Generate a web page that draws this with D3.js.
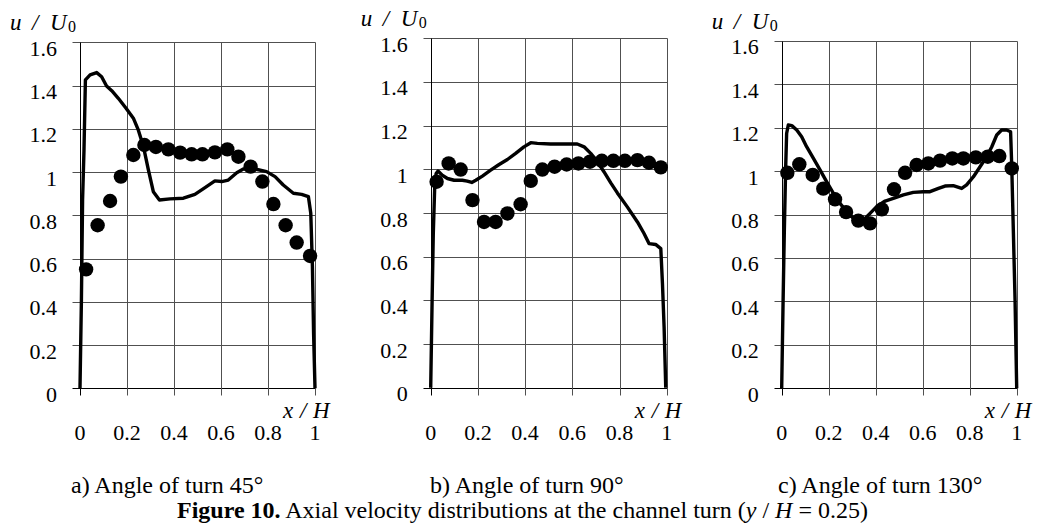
<!DOCTYPE html>
<html>
<head>
<meta charset="utf-8">
<script src="https://cdn.jsdelivr.net/npm/d3@7"></script>
<style>
  html, body { margin: 0; padding: 0; background: #fff; }
  svg { display: block; }
  text { font-family: "Liberation Serif", "Times New Roman", serif; fill: #000; }
</style>
</head>
<body>
<svg id="chart" width="1045" height="529"></svg>
<script>
// ---------------- DATA ----------------
const xTicks = [0, 0.2, 0.4, 0.6, 0.8, 1];
const yTicks = [0, 0.2, 0.4, 0.6, 0.8, 1, 1.2, 1.4, 1.6];
const xTickLabels = ["0", "0.2", "0.4", "0.6", "0.8", "1"];
const yTickLabels = ["0", "0.2", "0.4", "0.6", "0.8", "1", "1.2", "1.4", "1.6"];
const panelCaptions = ["a) Angle of turn 45\u00B0", "b) Angle of turn 90\u00B0", "c) Angle of turn 130\u00B0"];

// Panel a) 45° : experiment (dots)
const expA_x = [0.026, 0.075, 0.128, 0.174, 0.227, 0.274, 0.323, 0.376, 0.426, 0.475, 0.521, 0.574, 0.627, 0.674, 0.726, 0.776, 0.823, 0.875, 0.922, 0.979];
const expA_u = [0.55, 0.754, 0.866, 0.979, 1.079, 1.125, 1.116, 1.105, 1.090, 1.082, 1.082, 1.091, 1.105, 1.071, 1.025, 0.956, 0.852, 0.754, 0.674, 0.612];
// Panel a) 45° : calculation (line)
const calcA_x = [0, 0.006, 0.011, 0.017, 0.023, 0.043, 0.071, 0.092, 0.113, 0.135, 0.163, 0.196, 0.227, 0.248, 0.270, 0.291, 0.312, 0.338, 0.383, 0.440, 0.489, 0.532, 0.574, 0.603, 0.631, 0.667, 0.695, 0.745, 0.794, 0.830, 0.865, 0.908, 0.943, 0.972, 0.982, 0.989, 0.994, 1.0];
const calcA_u = [0, 0.408, 0.871, 1.102, 1.426, 1.449, 1.460, 1.441, 1.398, 1.376, 1.341, 1.295, 1.249, 1.195, 1.118, 1.010, 0.909, 0.871, 0.876, 0.879, 0.897, 0.928, 0.959, 0.956, 0.963, 0.997, 1.014, 1.014, 1.002, 0.979, 0.940, 0.902, 0.897, 0.886, 0.809, 0.563, 0.254, 0];

// Panel b) 90° : experiment (dots)
const expB_x = [0.025, 0.076, 0.127, 0.177, 0.226, 0.275, 0.325, 0.381, 0.424, 0.473, 0.525, 0.576, 0.626, 0.675, 0.725, 0.774, 0.823, 0.876, 0.925, 0.975];
const expB_u = [0.943, 1.027, 0.999, 0.859, 0.759, 0.759, 0.798, 0.840, 0.947, 0.999, 1.012, 1.022, 1.027, 1.035, 1.039, 1.039, 1.039, 1.042, 1.030, 1.009];
// Panel b) 90° : calculation (line)
const calcB_x = [0, 0.006, 0.011, 0.017, 0.023, 0.031, 0.049, 0.071, 0.099, 0.134, 0.155, 0.174, 0.191, 0.219, 0.254, 0.290, 0.325, 0.360, 0.395, 0.424, 0.452, 0.508, 0.565, 0.621, 0.650, 0.678, 0.706, 0.734, 0.763, 0.791, 0.833, 0.876, 0.904, 0.925, 0.953, 0.975, 0.982, 0.989, 0.996];
const calcB_u = [0, 0.40, 0.706, 0.920, 0.981, 0.992, 0.973, 0.958, 0.950, 0.950, 0.946, 0.940, 0.950, 0.969, 0.996, 1.022, 1.045, 1.073, 1.103, 1.122, 1.119, 1.116, 1.116, 1.116, 1.103, 1.073, 1.035, 0.989, 0.938, 0.892, 0.828, 0.759, 0.706, 0.660, 0.656, 0.637, 0.477, 0.278, 0];

// Panel c) 130° : experiment (dots)
const expC_x = [0.024, 0.075, 0.132, 0.177, 0.227, 0.274, 0.326, 0.376, 0.426, 0.478, 0.525, 0.574, 0.624, 0.674, 0.726, 0.773, 0.826, 0.877, 0.926, 0.979];
const expC_u = [0.992, 1.031, 0.982, 0.919, 0.870, 0.811, 0.772, 0.759, 0.824, 0.916, 0.992, 1.028, 1.035, 1.048, 1.058, 1.058, 1.063, 1.066, 1.069, 1.012];
// Panel c) 130° : calculation (line)
const calcC_x = [0, 0.006, 0.011, 0.017, 0.021, 0.028, 0.043, 0.064, 0.085, 0.106, 0.135, 0.163, 0.191, 0.220, 0.248, 0.277, 0.305, 0.326, 0.348, 0.376, 0.404, 0.440, 0.475, 0.518, 0.560, 0.603, 0.631, 0.667, 0.695, 0.730, 0.766, 0.787, 0.816, 0.844, 0.872, 0.894, 0.915, 0.936, 0.957, 0.974, 0.979, 0.986, 0.993, 1.0];
const calcC_u = [0, 0.406, 0.713, 1.020, 1.173, 1.212, 1.209, 1.189, 1.158, 1.112, 1.058, 1.005, 0.951, 0.897, 0.851, 0.813, 0.782, 0.767, 0.775, 0.805, 0.836, 0.862, 0.874, 0.890, 0.902, 0.905, 0.905, 0.920, 0.931, 0.933, 0.920, 0.936, 0.974, 1.020, 1.066, 1.112, 1.166, 1.189, 1.189, 1.181, 1.020, 0.713, 0.406, 0];

const figureCaptionBold = "Figure 10.";
const figureCaptionRest = " Axial velocity distributions at the channel turn (";

// ---------------- LAYOUT ----------------
const panels = [
  { left: 80,    right: 315,   top: 42.3, bottom: 388.3, ex: expA_x, eu: expA_u, cx: calcA_x, cu: calcA_u, capX: 71 },
  { left: 430.7, right: 666.7, top: 38.3, bottom: 387.7, ex: expB_x, eu: expB_u, cx: calcB_x, cu: calcB_u, capX: 430 },
  { left: 781.7, right: 1016.7, top: 40.7, bottom: 388.3, ex: expC_x, eu: expC_u, cx: calcC_x, cu: calcC_u, capX: 778 }
];

const svg = d3.select("#chart");
const gridColor = "#505050";
const snap = v => Math.round(v) + 0.5;

panels.forEach((p, i) => {
  const x = d3.scaleLinear().domain([0, 1]).range([p.left, p.right]);
  const y = d3.scaleLinear().domain([0, 1.6]).range([p.bottom, p.top]);
  const g = svg.append("g");

  // horizontal grid lines (+ left tick marks)
  g.selectAll("line.hg").data(yTicks).enter().append("line")
    .attr("x1", snap(x(0)) - 8).attr("x2", snap(x(1)))
    .attr("y1", d => snap(y(d))).attr("y2", d => snap(y(d)))
    .attr("stroke", d => d === 0 ? "#000" : gridColor)
    .attr("stroke-width", 1);

  // vertical grid lines (+ bottom tick marks)
  g.selectAll("line.vg").data(xTicks).enter().append("line")
    .attr("x1", d => snap(x(d))).attr("x2", d => snap(x(d)))
    .attr("y1", snap(y(1.6))).attr("y2", snap(y(0)) + 7)
    .attr("stroke", d => d === 0 ? "#000" : gridColor)
    .attr("stroke-width", 1);

  // y tick labels
  g.selectAll("text.yl").data(yTicks).enter().append("text")
    .attr("x", x(0) - 23)
    .attr("y", d => y(d) + 13.5)
    .attr("text-anchor", "end")
    .attr("font-size", 22)
    .text((d, k) => yTickLabels[k]);

  // x tick labels
  g.selectAll("text.xl").data(xTicks).enter().append("text")
    .attr("x", d => x(d))
    .attr("y", 440)
    .attr("text-anchor", "middle")
    .attr("font-size", 22)
    .text((d, k) => xTickLabels[k]);

  // y axis title: u / U0
  const ty = y(1.6) - 12;
  const ax0 = x(0);
  g.append("text").attr("x", ax0 - 70).attr("y", ty).attr("font-size", 23).attr("font-style", "italic").text("u");
  g.append("text").attr("x", ax0 - 48).attr("y", ty).attr("font-size", 23).attr("font-style", "italic").text("/");
  g.append("text").attr("x", ax0 - 30).attr("y", ty).attr("font-size", 23).attr("font-style", "italic").text("U");
  g.append("text").attr("x", ax0 - 12).attr("y", ty + 2).attr("font-size", 16).text("0");

  // x axis title: x / H
  const tx = x(1);
  g.append("text").attr("x", tx - 32).attr("y", 418).attr("font-size", 23).attr("font-style", "italic").text("x");
  g.append("text").attr("x", tx - 15).attr("y", 418).attr("font-size", 23).attr("font-style", "italic").text("/");
  g.append("text").attr("x", tx - 2).attr("y", 418).attr("font-size", 23).attr("font-style", "italic").text("H");

  // calculated line
  const lineData = p.cx.map((v, k) => [v, p.cu[k]]);
  g.append("path")
    .datum(lineData)
    .attr("fill", "none")
    .attr("stroke", "#000")
    .attr("stroke-width", 3.4)
    .attr("stroke-linejoin", "round")
    .attr("stroke-linecap", "butt")
    .attr("d", d3.line().x(d => x(d[0])).y(d => y(d[1])));

  // experimental dots
  const dotData = p.ex.map((v, k) => [v, p.eu[k]]);
  g.selectAll("circle").data(dotData).enter().append("circle")
    .attr("cx", d => x(d[0]))
    .attr("cy", d => y(d[1]))
    .attr("r", 7.2)
    .attr("fill", "#000");

  // panel caption
  svg.append("text")
    .attr("x", p.capX).attr("y", 493)
    .attr("font-size", 24)
    .text(panelCaptions[i]);
});

// figure caption
const fc = svg.append("text").attr("x", 177).attr("y", 518).attr("font-size", 24);
fc.append("tspan").attr("font-weight", "bold").text(figureCaptionBold);
fc.append("tspan").text(figureCaptionRest);
fc.append("tspan").attr("font-style", "italic").text("y");
fc.append("tspan").text(" / ");
fc.append("tspan").attr("font-style", "italic").text("H");
fc.append("tspan").text(" = 0.25)");
</script>
</body>
</html>
